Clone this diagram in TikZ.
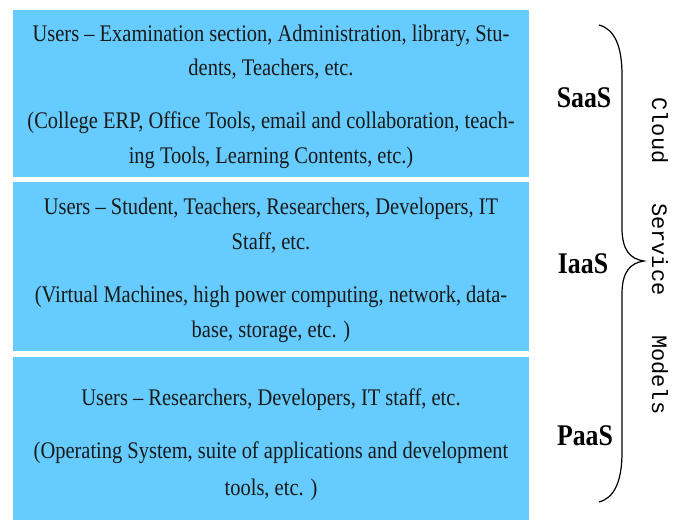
\documentclass[tikz,border=0pt]{standalone}
\usepackage{fontspec}
\setmainfont{Liberation Serif}
\newfontfamily\bodyfont[FakeStretch=0.86]{Liberation Serif}
\newfontfamily\vertfont{Liberation Mono}
\definecolor{boxblue}{RGB}{102,204,255}
\tikzset{
  layerbox/.style={fill=boxblue, draw=none, inner sep=0pt, anchor=north west, minimum width=516pt},
  textline/.style={font=\bodyfont\fontsize{23.8}{28}\selectfont, anchor=base, inner sep=0pt, text=black!90},
  modellabel/.style={font=\bodyfont\bfseries\fontsize{30}{34}\selectfont, anchor=base, inner sep=0pt},
  bracestyle/.style={draw=black, line width=1.2pt},
  verttext/.style={font=\vertfont\fontsize{22}{26}\selectfont, rotate=-90, anchor=base, inner sep=0pt}
}
\begin{document}
\begin{tikzpicture}[x=1pt,y=-1pt]
\useasboundingbox (0,0) rectangle (676,520);
\fill[white] (0,0) rectangle (676,520);
% layer boxes
\node[layerbox, minimum height=167pt] (saasbox) at (13,10) {};
\node[layerbox, minimum height=169pt] (iaasbox) at (13,182) {};
\node[layerbox, minimum height=163pt] (paasbox) at (13,357) {};
% SaaS text
\node[textline] (s1) at (271,41.7) {Users – Examination section, Administration, library, Stu-};
\node[textline] (s2) at (271,75) {dents, Teachers, etc.};
\node[textline] (s3) at (271,128.5) {(College ERP, Office Tools, email and collaboration, teach-};
\node[textline] (s4) at (271,163) {ing Tools, Learning Contents, etc.)};
% IaaS text
\node[textline] (i1) at (271,214) {Users – Student, Teachers, Researchers, Developers, IT};
\node[textline] (i2) at (271,249) {Staff, etc.};
\node[textline] (i3) at (271,302) {(Virtual Machines, high power computing, network, data-};
\node[textline] (i4) at (271,337) {base, storage, etc. )};
% PaaS text
\node[textline] (p1) at (271,405) {Users – Researchers, Developers, IT staff, etc.};
\node[textline] (p2) at (271,458) {(Operating System, suite of applications and development};
\node[textline] (p3) at (271,495) {tools, etc. )};
% labels
\node[modellabel] (saas) at (584,107) {SaaS};
\node[modellabel] (iaas) at (583,273) {IaaS};
\node[modellabel] (paas) at (585,445) {PaaS};
% brace
\coordinate (bracetop) at (599,25);
\coordinate (bracetip) at (644,261);
\coordinate (bracebot) at (599,502);
\draw[bracestyle] (bracetop) .. controls (614,29) and (622,45) .. (622,75)
  -- (622,228) .. controls (622,250) and (630,259) .. (bracetip)
  .. controls (630,263) and (622,272) .. (622,294)
  -- (622,452) .. controls (622,482) and (614,498) .. (bracebot);
% vertical text
\node[verttext] (cloudtext) at (652,256) {Cloud~~~Service~~~Models};
\end{tikzpicture}
\end{document}
